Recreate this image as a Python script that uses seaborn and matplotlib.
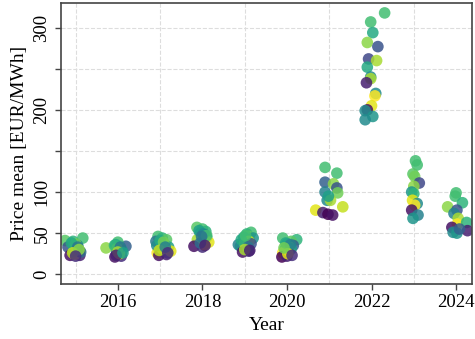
import numpy as np
import pandas as pd
import matplotlib
matplotlib.use("Agg")
import matplotlib.pyplot as plt
from matplotlib.ticker import MultipleLocator, FixedLocator, FuncFormatter
import seaborn as sns

# valores: posicion (año fraccional), precio medio, hora del dia
year_pos = [
    # 2015
    2014.75, 2015.17, 2014.82, 2014.94, 2015.05, 2015.03, 2015.10, 2014.87, 2015.10, 2014.98, 2015.12, 2014.95, 2015.00,
    2014.90, 2015.05, 2014.93, 2015.08, 2015.00,
    # 2016
    2015.72, 2016.19, 2016.00, 2015.95, 2016.05, 2015.97, 2016.02, 2015.93, 2016.08, 2016.10, 2015.98, 2016.04,
    2015.92, 2016.06, 2016.00, 2015.96, 2016.12,
    # 2017
    2016.95, 2017.05, 2016.90, 2017.15, 2017.00, 2017.10, 2017.20, 2016.93, 2016.97, 2017.15, 2017.25, 2017.05, 2016.92,
    2017.00, 2017.08, 2016.98, 2017.12, 2017.18,
    # 2018
    2017.87, 2018.00, 2018.08, 2017.95, 2018.05, 2018.10, 2018.00, 2017.88, 2017.80, 2018.00, 2018.05, 2018.15, 2017.95,
    2017.92, 2018.02, 2018.10, 2017.98, 2018.06,
    # 2019
    2019.15, 2019.05, 2019.10, 2018.98, 2019.20, 2018.85, 2018.90, 2019.00, 2019.05, 2018.95, 2019.10, 2019.10, 2019.15,
    2018.92, 2019.02, 2019.08, 2019.00, 2019.12,
    # 2020
    2019.90, 2020.23, 2020.10, 2020.00, 2020.15, 2020.05, 2019.95, 2019.90, 2019.88, 2020.00, 2020.05, 2020.10,
    2019.97, 2020.08, 2020.02, 2019.93, 2020.12,
    # 2021
    2020.90, 2021.18, 2020.90, 2021.10, 2020.90, 2021.18, 2021.20, 2020.95, 2021.03, 2020.68, 2021.32, 2020.85, 2020.97, 2021.08, 2020.98,
    # 2022
    2022.31, 2021.98, 2022.03, 2021.90, 2022.15, 2021.93, 2022.12, 2021.90, 2021.98, 2021.98, 2021.88, 2022.10, 2022.08,
    2022.00, 2021.90, 2021.85, 2022.03, 2021.85,
    # 2023
    2023.04, 2023.08, 2022.98, 2023.02, 2023.13, 2023.00, 2022.95, 2023.00, 2022.97, 2023.08, 2023.02, 2022.95, 2023.10, 2022.98,
    # 2024
    2024.00, 2023.98, 2024.15, 2023.80, 2024.02, 2023.95, 2024.05, 2024.03, 2023.90, 2024.25, 2024.27, 2023.93, 2024.02, 2024.08,
]
price_mean = [
    41, 44, 33, 40, 35, 31, 28, 23, 23, 24, 27, 28, 37,
    38, 33, 26, 30, 22,
    32, 34, 39, 36, 30, 27, 24, 21, 22, 29, 31, 25,
    35, 33, 27, 23, 26,
    46, 44, 40, 42, 38, 36, 33, 26, 23, 24, 28, 31, 35,
    41, 39, 29, 33, 26,
    57, 55, 52, 50, 48, 45, 44, 42, 34, 33, 36, 39, 38,
    53, 49, 47, 46, 35,
    51, 49, 46, 45, 44, 36, 34, 38, 32, 27, 28, 40, 37,
    42, 47, 33, 30, 29,
    44, 42, 40, 37, 35, 33, 30, 26, 21, 22, 28, 31,
    38, 36, 25, 32, 23,
    130, 123, 112, 110, 100, 105, 99, 90, 90, 78, 82, 75, 73, 72, 95,
    318, 307, 294, 282, 277, 262, 260, 252, 240, 238, 233, 220, 217,
    205, 200, 199, 192, 188,
    138, 133, 122, 119, 111, 107, 100, 98, 90, 86, 84, 78, 72, 68,
    99, 95, 87, 82, 78, 74, 68, 61, 57, 63, 53, 51, 50, 55,
]
hour = [
    17, 16, 6, 15, 11, 20, 22, 1, 2, 23, 8, 13, 18,
    14, 9, 21, 19, 3,
    19, 7, 16, 14, 18, 10, 23, 1, 3, 12, 21, 22,
    15, 9, 20, 2, 13,
    16, 15, 9, 17, 12, 19, 13, 23, 1, 2, 22, 20, 11,
    14, 18, 21, 10, 3,
    17, 16, 15, 12, 10, 14, 18, 20, 1, 3, 23, 22, 8,
    13, 11, 16, 9, 2,
    16, 15, 17, 13, 12, 10, 11, 19, 23, 1, 3, 21, 6,
    14, 16, 9, 20, 2,
    16, 15, 17, 12, 7, 20, 11, 23, 0, 2, 21, 13,
    14, 10, 22, 18, 3,
    16, 16, 7, 19, 10, 6, 18, 11, 20, 22, 21, 2, 0, 1, 13,
    16, 16, 14, 19, 6, 5, 20, 14, 11, 20, 2, 11, 23,
    22, 1, 11, 12, 11,
    16, 16, 17, 18, 5, 19, 12, 15, 22, 11, 23, 1, 10, 12,
    16, 16, 15, 19, 6, 10, 20, 23, 1, 15, 2, 11, 12, 7,
]

df = pd.DataFrame({"Year": year_pos, "Price": price_mean, "Hour": hour})

plt.rcParams["font.family"] = ["Liberation Serif", "DejaVu Serif"]
plt.rcParams["font.size"] = 13.5

fig = plt.figure(figsize=(4.75, 3.39), dpi=100)
ax = fig.add_axes([0.128, 0.162, 0.866, 0.829])

sns.scatterplot(data=df, x="Year", y="Price", hue="Hour", palette="viridis",
                hue_norm=(0, 23), s=70, alpha=0.85, linewidth=0, legend=False, ax=ax)

ax.set_xlim(2014.65, 2024.38)
ax.set_ylim(-12, 330)

# ticks y: marcas cada 50, etiquetas solo algunas
ax.yaxis.set_major_locator(MultipleLocator(50))
etiquetas_y = {0: "0", 50: "50", 100: "100", 200: "200", 300: "300"}
ax.yaxis.set_major_formatter(FuncFormatter(lambda v, p: etiquetas_y.get(int(round(v)), "")))
ax.tick_params(axis="y", labelrotation=90)
for lab in ax.get_yticklabels():
    lab.set_va("center")

ax.xaxis.set_major_locator(FixedLocator([2016, 2018, 2020, 2022, 2024]))
ax.xaxis.set_major_formatter(FuncFormatter(lambda v, p: f"{int(v)}"))
ax.xaxis.set_minor_locator(FixedLocator(list(range(2015, 2025))))
ax.tick_params(axis="x", which="minor", length=0)
ax.tick_params(axis="both", which="major", length=4, width=1, color="#444444", labelsize=13.5)

ax.grid(True, axis="y", which="major", linestyle="--", color="#dddddd", linewidth=0.8)
ax.grid(True, axis="x", which="minor", linestyle="--", color="#dddddd", linewidth=0.8)
ax.grid(False, axis="x", which="major")
ax.set_axisbelow(True)

for sp in ax.spines.values():
    sp.set_color("#444444")
    sp.set_linewidth(1.2)

ax.set_xlabel("Year", fontsize=14)
ax.set_ylabel("Price mean [EUR/MWh]", fontsize=14)

fig.savefig("out.png", dpi=100)
